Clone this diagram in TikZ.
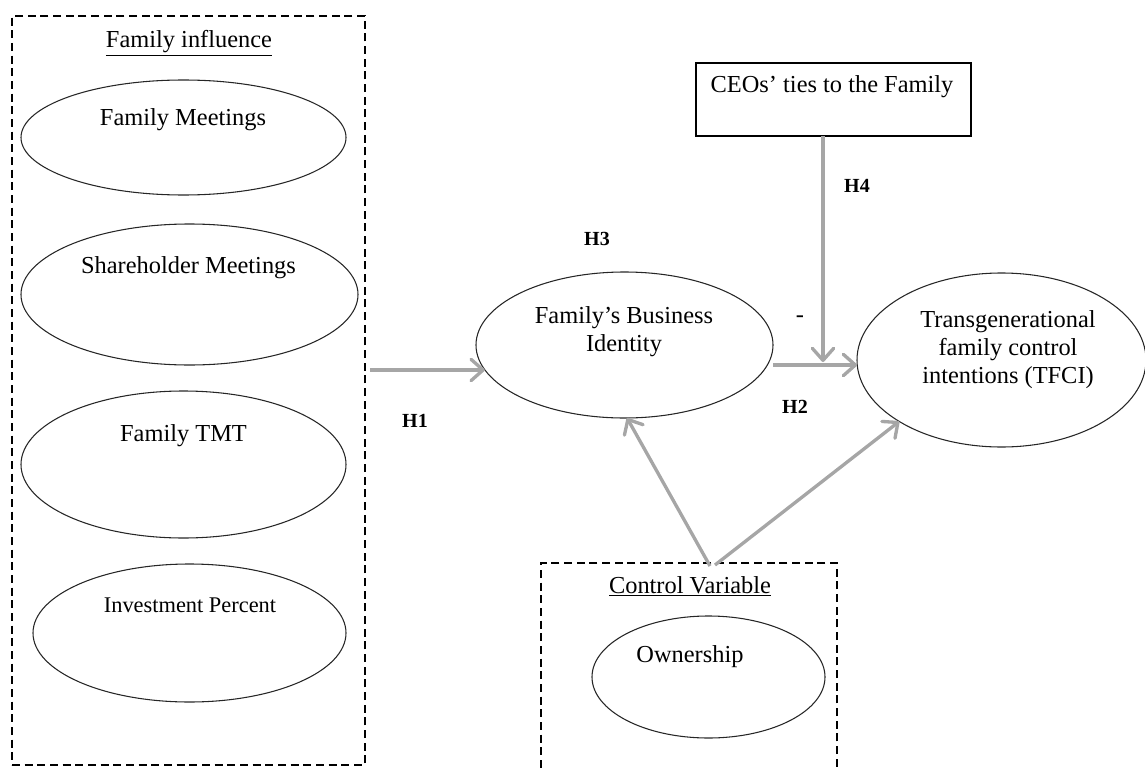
\documentclass[tikz,border=0pt]{standalone}
\usepackage{fontspec}
\setmainfont{Liberation Serif}
\usetikzlibrary{shapes.geometric,arrows.meta}
\definecolor{arrgray}{HTML}{A6A6A6}
\begin{document}
\begin{tikzpicture}[x=0.75pt,y=-0.75pt,
  ell/.style={draw=black!85, ellipse, line width=0.8pt, inner sep=0pt, outer sep=0pt},
  dbox/.style={draw=black, dashed, dash pattern=on 6pt off 3.5pt, line width=1.1pt, inner sep=0pt, outer sep=0pt},
  sbox/.style={draw=black, line width=1.1pt, inner sep=0pt, outer sep=0pt},
  txt/.style={inner sep=0pt, outer sep=0pt, anchor=base, font=\fontsize{18.3}{21}\selectfont, align=center},
  hlab/.style={inner sep=0pt, outer sep=0pt, anchor=base, font=\fontsize{15}{17}\selectfont\bfseries},
  harrow/.style={draw=arrgray, line width=2.5pt, -{Straight Barb[length=9pt,width=16pt,round]}}
]
\useasboundingbox (0,0) rectangle (1145,767);
\clip (0,0) rectangle (1145,767);

% Family influence box
\node[dbox, minimum width=264.75pt, minimum height=561.75pt] (fibox) at (188.5,390.5) {};
\node[txt] (fititle) at (189,48) {\underline{Family influence}};

\node[ell, minimum width=243.75pt, minimum height=86.25pt] (fm) at (183.5,137.5) {};
\node[txt] (fmt) at (183,125) {Family Meetings};

\node[ell, minimum width=252.75pt, minimum height=105.75pt] (sm) at (189.5,294.5) {};
\node[txt] (smt) at (188.5,273) {Shareholder Meetings};

\node[ell, minimum width=243.75pt, minimum height=110.25pt] (tmt) at (183.5,464.5) {};
\node[txt] (tmtt) at (183.5,441) {Family TMT};

\node[ell, minimum width=234.75pt, minimum height=103.5pt] (ip) at (189.5,633) {};
\node[txt, font=\fontsize{16.8}{20}\selectfont] (ipt) at (190,612) {Investment Percent};

% Family's Business Identity
\node[ell, minimum width=222.75pt, minimum height=109.5pt] (fbi) at (624.5,345) {};
\node[txt] (fbit) at (624,351) {Family’s Business\\Identity};

% TFCI
\node[ell, minimum width=216.75pt, minimum height=130.5pt] (tfci) at (1001.5,360) {};
\node[txt] (tfcit) at (1008,383) {Transgenerational\\family control\\intentions (TFCI)};

% CEO box
\node[sbox, minimum width=206.25pt, minimum height=54.75pt] (ceo) at (833.5,99.5) {};
\node[txt] (ceot) at (832,93) {CEOs’ ties to the Family};

% Control variable box
\node[dbox, minimum width=222pt, minimum height=177.75pt] (cvbox) at (689,681.5) {};
\node[txt] (cvtitle) at (690,593) {\underline{Control Variable}};
\node[ell, minimum width=174.75pt, minimum height=91.5pt] (own) at (708.5,677) {};
\node[txt] (ownt) at (690,662) {Ownership};

% connectors
\coordinate (h1s) at (370,370);
\draw[harrow] (h1s) -- (h1s -| fbi.190);

\coordinate (h2s) at (773,365);
\draw[harrow] (h2s) -- (h2s -| tfci.west);

\coordinate (h4e) at (823,362);
\draw[harrow] (ceo.south -| h4e) -- (h4e);

\coordinate (cv1) at (710,566);
\coordinate (cv2) at (715,565);
\draw[harrow] (cv1) -- (fbi.272);
\draw[harrow] (cv2) -- (tfci.211);

% labels
\node[hlab] (lh1) at (415,427) {H1};
\node[hlab] (lh2) at (795,413) {H2};
\node[hlab] (lh3) at (597,245) {H3};
\node[hlab] (lh4) at (857,192) {H4};
\node[txt] (minus) at (800,322) {-};
\end{tikzpicture}
\end{document}
